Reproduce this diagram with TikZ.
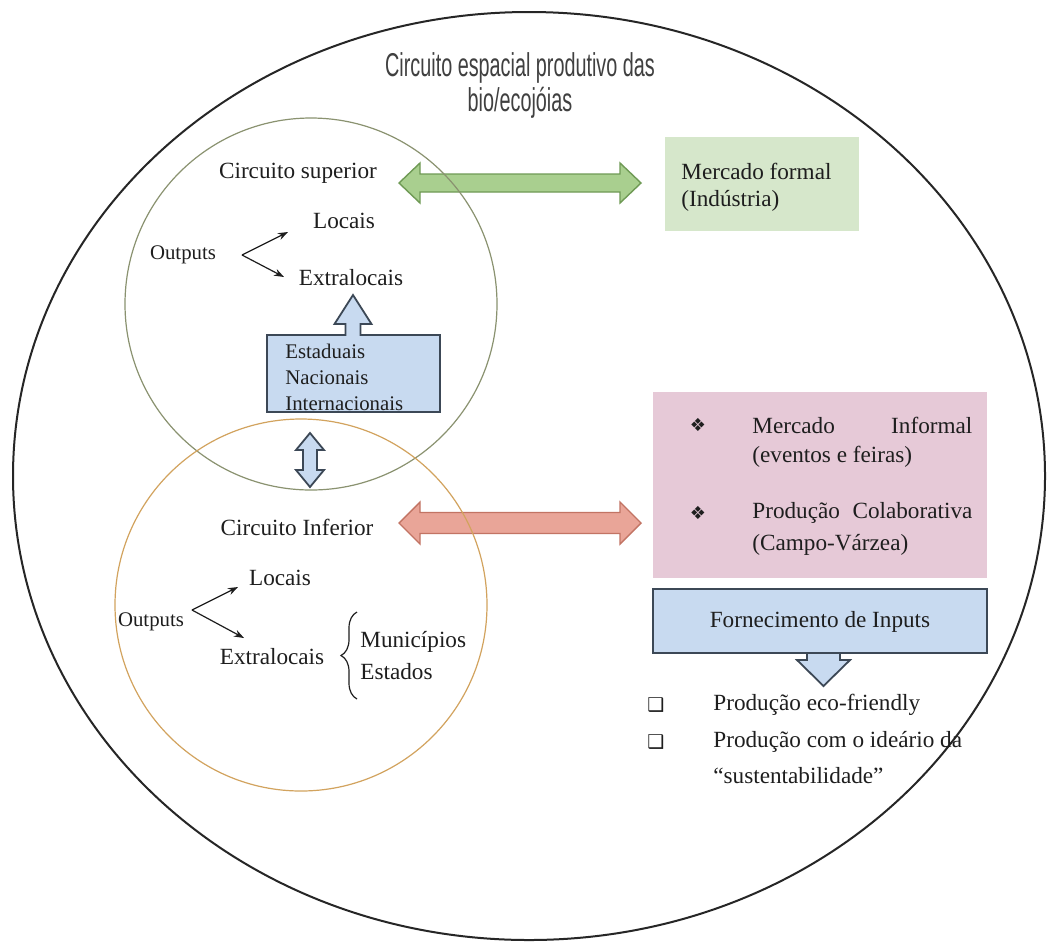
\documentclass[tikz,border=0pt]{standalone}
\usepackage{fontspec}
\setmainfont{Liberation Serif}
\newfontfamily\titlefont[FakeStretch=0.6]{Liberation Sans}
\newfontfamily\dingfont{DejaVu Sans}
\usetikzlibrary{decorations.pathreplacing,arrows.meta}

\definecolor{inkc}{HTML}{1E1E1E}
\definecolor{supc}{HTML}{8A9270}
\definecolor{infc}{HTML}{D2A35E}
\definecolor{grfill}{HTML}{A9CF8F}
\definecolor{grline}{HTML}{6F9A55}
\definecolor{rdfill}{HTML}{E9A598}
\definecolor{rdline}{HTML}{C27464}
\definecolor{blfill}{HTML}{C8DAF0}
\definecolor{blline}{HTML}{3C4856}
\definecolor{mfbox}{HTML}{D6E7CB}
\definecolor{mibox}{HTML}{E6C9D7}

\tikzset{
  txt/.style={inner sep=0pt, text=inkc, font=\fontsize{11.6}{14}\selectfont},
  smalltxt/.style={inner sep=0pt, text=inkc, font=\fontsize{10.4}{13}\selectfont},
  outarrow/.style={-{Stealth[length=5pt,width=3.6pt]}, line width=0.6pt, draw=inkc},
  greenarrow/.style={fill=grfill, draw=grline, line width=0.7pt, line join=miter},
  redarrow/.style={fill=rdfill, draw=rdline, line width=0.7pt, line join=miter},
  bluearrow/.style={fill=blfill, draw=blline, line width=0.9pt, line join=miter},
  ring/.style={line width=0.6pt},
  bulletmark/.style={inner sep=0pt, text=inkc, font=\dingfont\fontsize{9}{10}\selectfont},
  boxmark/.style={inner sep=0pt, text=inkc, font=\dingfont\fontsize{9.5}{10}\selectfont},
}

\begin{document}
\begin{tikzpicture}[x=0.5pt, y=-0.5pt]
\useasboundingbox (0,0) rectangle (1047,943);
\fill[white] (0,0) rectangle (1047,943);

% outer frame
\draw[line width=1pt, draw=black!85] (529,476) ellipse [x radius=258pt, y radius=232pt];

% title
\node[font=\titlefont\fontsize{16.5}{17.5}\selectfont, text=black!75, align=center, inner sep=0pt] (title) at (520,85)
  {Circuito espacial produtivo das\\bio/ecojóias};

% coloured boxes on the right
\fill[mfbox] (665,137) rectangle (859,231);
\fill[mibox] (653,392) rectangle (987,578);

% double block arrows
\path[greenarrow] (399,183) -- (420,163) -- (420,174) -- (620,174) -- (620,163) -- (641,183)
  -- (620,203) -- (620,192) -- (420,192) -- (420,203) -- cycle;
\path[redarrow] (399,523) -- (420,502) -- (420,512.5) -- (620,512.5) -- (620,502) -- (641,523)
  -- (620,544) -- (620,533.5) -- (420,533.5) -- (420,544) -- cycle;
\path[bluearrow] (310,433) -- (324,450) -- (317,450) -- (317,470) -- (324,470) -- (310,487)
  -- (296,470) -- (303,470) -- (303,450) -- (296,450) -- cycle;

% box with upward arrow
\path[bluearrow] (267,335) -- (345.5,335) -- (345.5,324) -- (334.5,324) -- (353,295) -- (371.5,324)
  -- (360.5,324) -- (360.5,335) -- (440,335) -- (440,412) -- (267,412) -- cycle;

% inputs box with downward arrow
\path[bluearrow] (807,650) -- (807,660) -- (797,660) -- (823.5,686) -- (850,660) -- (840,660) -- (840,650) -- cycle;
\path[bluearrow] (653,589) rectangle (987,653);

% the two circuits
\draw[ring, draw=supc] (311,304) circle [radius=93pt];
\draw[ring, draw=infc] (301,605) circle [radius=93pt];

% upper circuit
\node[txt] (cs) at (298,173) {Circuito superior};
\node[txt] (sl) at (344,221) {Locais};
\node[txt] (se) at (351,278) {Extralocais};
\node[smalltxt] (so) at (183,255) {Outputs};
\coordinate (sv) at (242,255);
\coordinate (st1) at (288,232);
\coordinate (st2) at (284,277);
\draw[outarrow] (sv) -- (st1);
\draw[outarrow] (sv) -- (st2);
\node[smalltxt, anchor=west, align=left] (est) at (285,377) {Estaduais\\Nacionais\\Internacionais};

% lower circuit
\node[txt] (ci) at (297,527) {Circuito Inferior};
\node[txt] (il) at (280,578) {Locais};
\node[smalltxt] (io) at (151,622) {Outputs};
\node[txt] (ie) at (272,657) {Extralocais};
\coordinate (iv) at (192,610);
\coordinate (it1) at (238,587);
\coordinate (it2) at (244,638);
\draw[outarrow] (iv) -- (it1);
\draw[outarrow] (iv) -- (it2);
\coordinate (br1) at (357,699);
\coordinate (br2) at (357,612);
\draw[line width=0.6pt, draw=inkc, decorate, decoration={brace, amplitude=8pt}] (br1) -- (br2);
\node[txt, anchor=west] (mu) at (360,642) {Municípios};
\node[txt, anchor=west] (es) at (360,672) {Estados};

% formal market
\node[txt, anchor=west] (mf1) at (681,171) {Mercado formal};
\node[txt, anchor=west] (mf2) at (681,201) {(Indústria)};

% informal market
\node[bulletmark] (b1) at (698,425) {❖};
\node[txt, anchor=west] (mi1) at (752,425) {\makebox[110pt]{Mercado\hfill Informal}};
\node[txt, anchor=west] (mi2) at (752,457) {(eventos e feiras)};
\node[bulletmark] (b2) at (698,513) {❖};
\node[txt, anchor=west] (pc1) at (752,513) {\makebox[110pt]{Produção\hfill Colaborativa}};
\node[txt, anchor=west] (pc2) at (752,545) {(Campo-Várzea)};

% inputs
\node[txt] (fi) at (820,622) {Fornecimento de Inputs};
\node[boxmark] (q1) at (656,705) {❑};
\node[boxmark] (q2) at (656,742) {❑};
\node[txt, anchor=west] (p1) at (713,705) {Produção eco-friendly};
\node[txt, anchor=west] (p2) at (713,742) {Produção com o ideário da};
\node[txt, anchor=west] (p3) at (713,776) {“sustentabilidade”};
\end{tikzpicture}
\end{document}
